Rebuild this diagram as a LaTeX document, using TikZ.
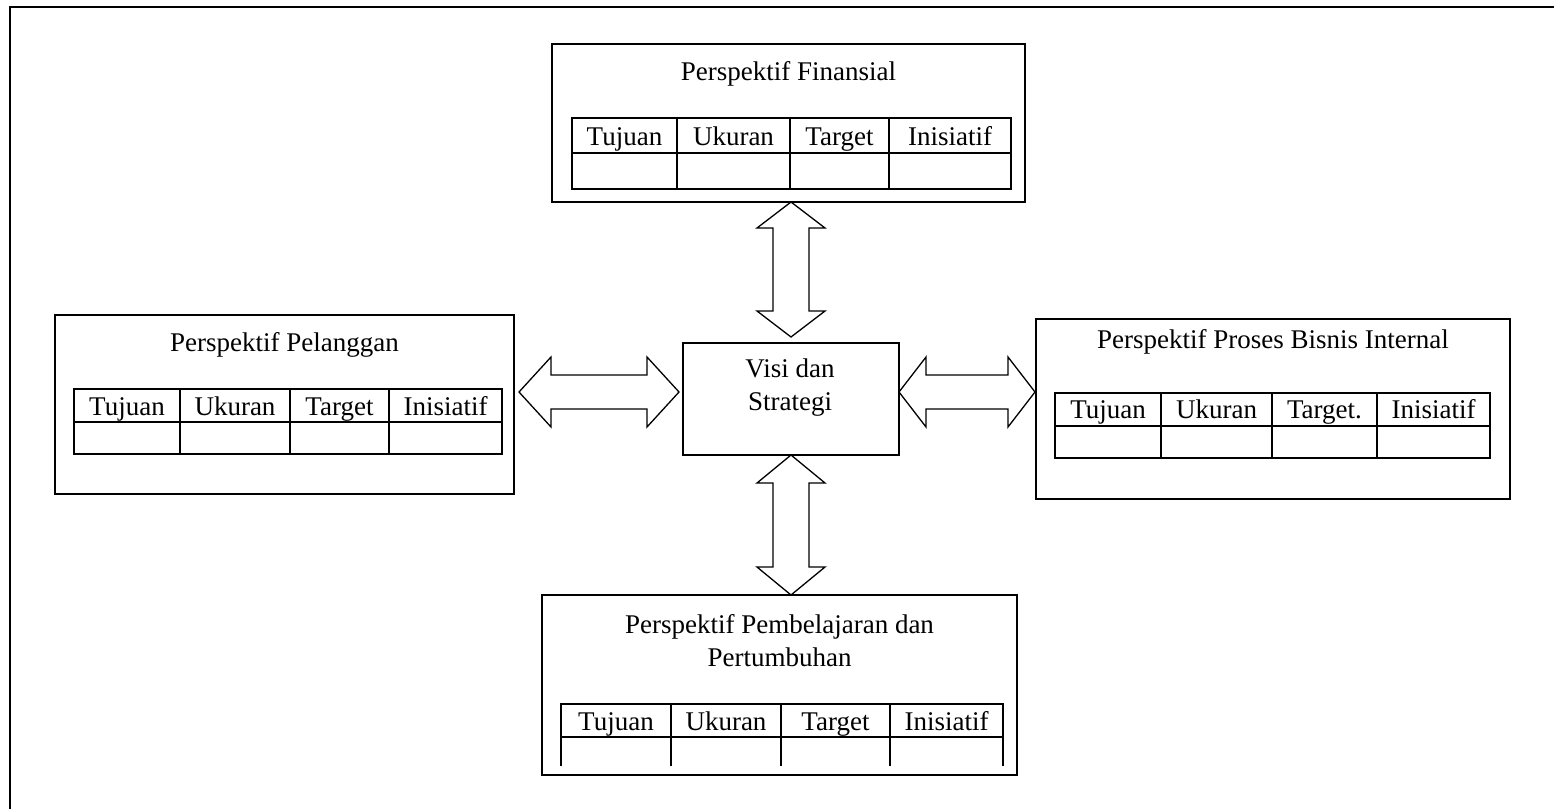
\documentclass[tikz,border=0pt]{standalone}
\usepackage{fontspec}
\setmainfont{Liberation Serif}
\usetikzlibrary{calc}

\tikzset{
  panel/.style={draw, rectangle, line width=1.3pt, inner sep=0pt, outer sep=0pt},
  tablerule/.style={line width=1.8pt, line cap=rect},
  headtext/.style={font=\fontsize{27}{32.5}\selectfont, inner sep=0pt, anchor=base, align=center},
  celltext/.style={font=\fontsize{27}{32.5}\selectfont, inner sep=0pt, anchor=base},
  blockarrow/.style={draw, line width=1.3pt, fill=white, line join=miter},
  pageframe/.style={line width=1.5pt}
}

% double block arrow, vertical: #1 upper tip, #2 lower tip, #3 head length
\newcommand\vblockarrow[3]{%
  \draw[blockarrow] let \p1=(#1), \p2=(#2) in
    (\x1,\y1) -- (\x1+34pt,\y1-#3pt) -- (\x1+18pt,\y1-#3pt) -- (\x1+18pt,\y2+#3pt)
    -- (\x1+34pt,\y2+#3pt) -- (\x1,\y2) -- (\x1-34pt,\y2+#3pt) -- (\x1-18pt,\y2+#3pt)
    -- (\x1-18pt,\y1-#3pt) -- (\x1-34pt,\y1-#3pt) -- cycle;}

% double block arrow, horizontal: #1 left tip, #2 right tip, #3 head length
\newcommand\hblockarrow[3]{%
  \draw[blockarrow] let \p1=(#1), \p2=(#2) in
    (\x1,\y1) -- (\x1+#3pt,\y1+35pt) -- (\x1+#3pt,\y1+17pt) -- (\x2-#3pt,\y1+17pt)
    -- (\x2-#3pt,\y1+35pt) -- (\x2,\y1) -- (\x2-#3pt,\y1-35pt) -- (\x2-#3pt,\y1-17pt)
    -- (\x1+#3pt,\y1-17pt) -- (\x1+#3pt,\y1-35pt) -- cycle;}

\begin{document}
\begin{tikzpicture}[x=1pt,y=-1pt]
\useasboundingbox (0,0) rectangle (1554,808);
\draw[pageframe] (10,812) -- (10,7) -- (1558,7);

% the five panels
\node[panel, minimum width=473, minimum height=158] (fin) at (788.5,123) {};
\node[panel, minimum width=459, minimum height=179] (pel) at (284.5,404.5) {};
\node[panel, minimum width=474, minimum height=180] (pro) at (1273,409) {};
\node[panel, minimum width=475, minimum height=180] (pem) at (779.5,685) {};
\node[panel, minimum width=216, minimum height=112] (visi) at (791,399) {};

% panel titles (base of a two-line title is its last line)
\node[headtext] (fin-title) at (788.5,81) {Perspektif Finansial};
\node[headtext] (pel-title) at (284.5,351) {Perspektif Pelanggan};
\node[headtext] (pro-title) at (1273,348) {Perspektif Proses Bisnis Internal};
\node[headtext] (pem-title) at (779.5,666) {Perspektif Pembelajaran dan\\Pertumbuhan};
\node[headtext] (visi-text) at (790,410) {Visi dan\\Strategi};

% table: Finansial
\draw[tablerule] (572,118) rectangle (1011,189) (572,153) -- (1011,153);
\foreach \c in {677,790,889} \draw[tablerule] (\c,118) -- (\c,189);
\foreach \a/\b/\t [count=\i] in {572/677/Tujuan,677/790/Ukuran,790/889/Target,889/1011/Inisiatif}
  \node[celltext] (fin-h\i) at ({(\a+\b)/2},145) {\t};

% table: Pelanggan
\draw[tablerule] (74,389) rectangle (502,454) (74,422) -- (502,422);
\foreach \c in {180,290,389} \draw[tablerule] (\c,389) -- (\c,454);
\foreach \a/\b/\t [count=\i] in {74/180/Tujuan,180/290/Ukuran,290/389/Target,389/502/Inisiatif}
  \node[celltext] (pel-h\i) at ({(\a+\b)/2},415) {\t};

% table: Proses Bisnis Internal
\draw[tablerule] (1055,393) rectangle (1490,458) (1055,426) -- (1490,426);
\foreach \c in {1161,1272,1377} \draw[tablerule] (\c,393) -- (\c,458);
\foreach \a/\b/\t [count=\i] in {1055/1161/Tujuan,1161/1272/Ukuran,1272/1377/Target.,1377/1490/Inisiatif}
  \node[celltext] (pro-h\i) at ({(\a+\b)/2},418) {\t};

% table: Pembelajaran dan Pertumbuhan (open at the bottom)
\draw[tablerule] (561,704) -- (1003,704) (561,737) -- (1003,737);
\foreach \c in {561,671,781,890,1003} \draw[tablerule] (\c,704) -- (\c,765);
\foreach \a/\b/\t [count=\i] in {561/671/Tujuan,671/781/Ukuran,781/890/Target,890/1003/Inisiatif}
  \node[celltext] (pem-h\i) at ({(\a+\b)/2},730) {\t};

% two-headed block arrows between the centre and the panels
\vblockarrow{visi.north |- fin.south}{$(visi.north)+(0,-6)$}{26}
\vblockarrow{visi.south}{visi.south |- pem.north}{28}
\hblockarrow{$(pel.east |- visi.west)+(5,-7)$}{$(visi.west)+(-4,-7)$}{32}
\hblockarrow{$(visi.east)+(0,-7)$}{$(pro.west |- visi.east)+(-1,-7)$}{27}
\end{tikzpicture}
\end{document}
